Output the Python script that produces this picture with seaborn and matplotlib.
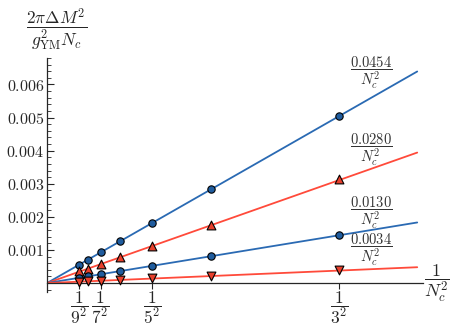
import matplotlib
matplotlib.use("Agg")
import matplotlib.pyplot as plt
import seaborn as sns
import pandas as pd
from matplotlib.ticker import MultipleLocator, FixedLocator

sns.set_style("white")
plt.rcParams["mathtext.fontset"] = "cm"
plt.rcParams["font.family"] = ["DejaVu Serif"]

# data
Nc = [3, 4, 5, 6, 7, 8, 9]
x_vals = [1/9, 1/16, 1/25, 1/36, 1/49, 1/64, 1/81]
s1 = [0.00505, 0.00285, 0.00182, 0.00126, 0.00093, 0.00071, 0.00056]  # blue circles
s2 = [0.00313, 0.00176, 0.00112, 0.00078, 0.00057, 0.00044, 0.00035]  # red up-triangles
s3 = [0.00144, 0.00081, 0.00052, 0.00036, 0.00027, 0.00020, 0.00016]  # blue circles
s4 = [0.00039, 0.00021, 0.00014, 0.00009, 0.00007, 0.00005, 0.00004]  # red down-triangles
slopes = [0.0454, 0.0280, 0.0130, 0.0034]
slope_labels = ["0.0454", "0.0280", "0.0130", "0.0034"]
xtick_pos = [1/81, 1/49, 1/25, 1/9]
xtick_labels = [r"$\dfrac{1}{9^2}$", r"$\dfrac{1}{7^2}$", r"$\dfrac{1}{5^2}$", r"$\dfrac{1}{3^2}$"]
x_end = 0.1408

blue_line = "#2a6ab3"
red_line = "#ff4a3a"
blue_face = "#1f5c9e"
red_face = "#e8402c"
line_colors = [blue_line, red_line, blue_line, red_line]

W, H = 457, 327
fig = plt.figure(figsize=(W/100, H/100), dpi=100)
x0, x1 = 0.0, 0.143
y0, y1 = -0.00027, 0.0068
ax = fig.add_axes([47/W, (H-292)/H, (423-47)/W, (292-58)/H])

for c, col in zip(slopes, line_colors):
    df = pd.DataFrame({"x": [0.0, x_end], "y": [0.0, c*x_end]})
    sns.lineplot(data=df, x="x", y="y", color=col, lw=1.3, ax=ax, zorder=2)

series = [(s1, "o", blue_face, 28), (s2, "^", red_face, 40), (s3, "o", blue_face, 28), (s4, "v", red_face, 40)]
for vals, m, fc, sz in series:
    df = pd.DataFrame({"x": x_vals, "y": vals})
    sns.scatterplot(data=df, x="x", y="y", marker=m, color=fc, edgecolor="black",
                    linewidth=0.8, s=sz, ax=ax, zorder=3)

ax.set_xlim(x0, x1)
ax.set_ylim(y0, y1)
ax.set_xlabel("")
ax.set_ylabel("")
for sp in ["top", "right"]:
    ax.spines[sp].set_visible(False)
ax.spines["left"].set_position(("data", 0))
ax.spines["bottom"].set_position(("data", 0))
ax.spines["left"].set_linewidth(0.9)
ax.spines["bottom"].set_linewidth(0.9)

ax.yaxis.set_major_locator(FixedLocator([0.001, 0.002, 0.003, 0.004, 0.005, 0.006]))
ax.set_yticklabels([r"$0.001$", r"$0.002$", r"$0.003$", r"$0.004$", r"$0.005$", r"$0.006$"], fontsize=11.5)
ax.yaxis.set_minor_locator(MultipleLocator(0.0002))
ax.tick_params(axis="y", which="major", direction="in", length=5, width=0.8, left=True, pad=2)
ax.tick_params(axis="y", which="minor", direction="in", length=3, width=0.6, left=True)

ax.set_xticks(xtick_pos)
ax.set_xticklabels(xtick_labels, fontsize=12.5)
ax.tick_params(axis="x", which="major", direction="out", length=4, width=0.8, bottom=True, pad=1)

# annotations
ann_y = [0.00636, 0.00403, 0.00212, 0.00102]
for lab, yy in zip(slope_labels, ann_y):
    ax.text(0.1235, yy, r"$\dfrac{%s}{N_c^2}$" % lab, fontsize=10.5, ha="center", va="center", color="#333333")

fig.text(437/W, 1 - 283/H, r"$\dfrac{1}{N_c^2}$", fontsize=13, ha="center", va="center")
fig.text(57/W, 1 - 30/H, r"$\dfrac{2\pi\Delta M^2}{g^2_{\rm YM}N_c}$", fontsize=12.5, ha="center", va="center")

fig.savefig("out.png", dpi=100)
